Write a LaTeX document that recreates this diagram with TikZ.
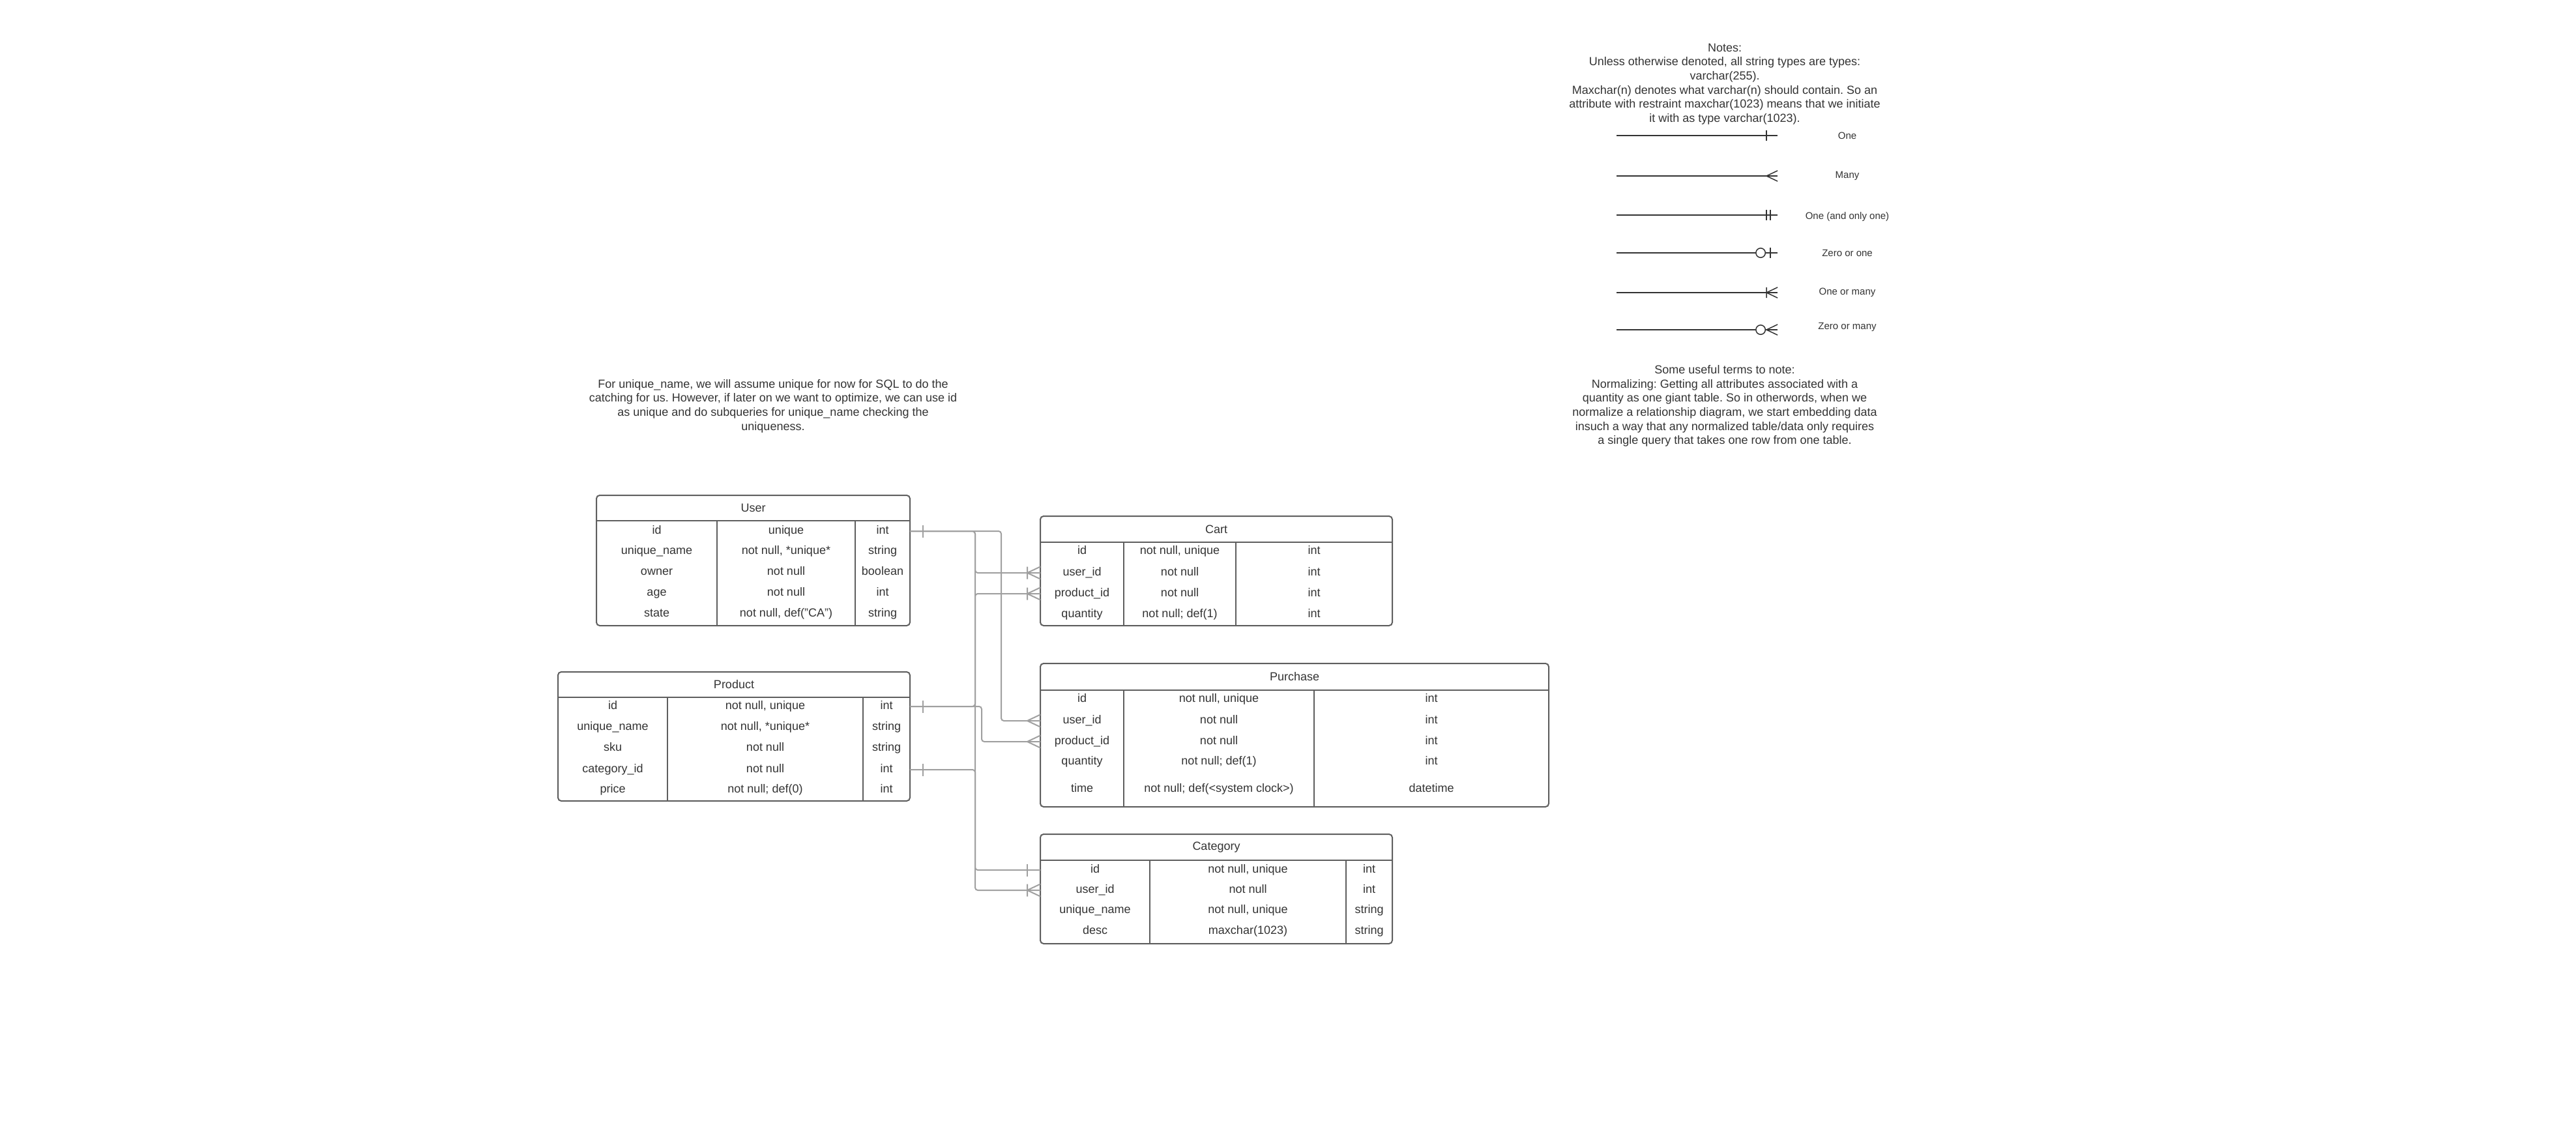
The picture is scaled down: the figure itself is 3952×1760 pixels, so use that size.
\documentclass[tikz,border=0pt]{standalone}
\usepackage{fontspec}
\setmainfont{Liberation Sans}
\usepackage{tikz}
\usetikzlibrary{positioning}
\definecolor{txt}{HTML}{333333}
\definecolor{border}{HTML}{5E5E5E}
\definecolor{linkgray}{HTML}{A0A0A0}
\definecolor{legdark}{HTML}{333333}
\frenchspacing

\tikzset{
  pics/tick/.style={code={\draw[sharp corners] (20,-9.5) -- (20,9.5);}},
  pics/bar/.style={code={\draw[sharp corners] (-20,-9.5) -- (-20,9.5);}},
  pics/crow/.style={code={\draw[sharp corners] (0,-9.5) -- (-20,0) -- (0,9.5);}},
  pics/crowbar/.style={code={\draw[sharp corners] (0,-9.5) -- (-20,0) -- (0,9.5) (-20,-9.5) -- (-20,9.5);}},
  pics/twobars/.style={code={\draw[sharp corners] (-20,-9.5) -- (-20,9.5) (-13,-9.5) -- (-13,9.5);}},
  pics/ringbar/.style={code={\draw[fill=white] (-30.5,0) circle [radius=8.5]; \draw (-13,-9.5) -- (-13,9.5);}},
  pics/ringcrow/.style={code={\draw[sharp corners] (0,-9.5) -- (-20,0) -- (0,9.5); \draw[fill=white] (-30.5,0) circle [radius=8.5];}},
}

\begin{document}
\begin{tikzpicture}[x=1pt,y=-1pt,
  every node/.style={text=txt,font=\fontsize{18}{21.7}\selectfont},
  tbl/.style={draw=border,line width=2pt,rounded corners=5pt,inner sep=0pt,outer sep=0pt,anchor=north west},
  rule/.style={draw=border,line width=2pt},
  hdr/.style={inner sep=0pt,outer sep=0pt,minimum height=#1},
  hdr/.default=40pt,
  cell/.style={inner sep=0pt,text height=13pt,text depth=4pt},
  rowspan/.style={inner sep=0pt,outer sep=0pt,minimum height=0pt},
  link/.style={color=linkgray,line width=2pt,rounded corners=4pt},
  legline/.style={color=legdark,line width=1.5pt},
  legtext/.style={font=\fontsize{15}{18}\selectfont}]
\useasboundingbox (0,0) rectangle (3952,1760);

\node[align=center] (notes) at (2646,129) {Notes:\\Unless otherwise denoted, all string types are types:\\varchar(255).\\Maxchar(n) denotes what varchar(n) should contain. So an\\attribute with restraint maxchar(1023) means that we initiate\\it with as type varchar(1023).};
\node[align=center] (terms) at (2646,623) {Some useful terms to note:\\Normalizing: Getting all attributes associated with a\\quantity as one giant table. So in otherwords, when we\\normalize a relationship diagram, we start embedding data\\insuch a way that any normalized table/data only requires\\a single query that takes one row from one table.};
\node[align=center] (remark) at (1186,623) {For unique\_name, we will assume unique for now for SQL to do the\\catching for us. However, if later on we want to optimize, we can use id\\as unique and do subqueries for unique\_name checking the\\uniqueness.};

% legend
\foreach \y/\ly/\lbl/\sym [count=\i] in {208/208/One/bar, 270/270/Many/crow, 330/333/One (and only one)/twobars, 388/388/Zero or one/ringbar, 449/449/One or many/crowbar, 506/502/Zero or many/ringcrow}{
  \coordinate (leg-\i) at (2480,\y);
  \node[legtext] (legl-\i) at (2834,\ly) {\lbl};
  \draw[legline] (leg-\i) -- (leg-\i -| 2727,0) pic[legline,scale=.85] {\sym};
}

% User
\node[tbl,minimum width=481pt,minimum height=200pt] (user) at (915,760) {};
\node[hdr=39pt,below=0pt of user.north] {User};
\draw[rule] (915,799) -- (1396,799) (1100,799) -- (1100,960) (1312,799) -- (1312,960);
\foreach \y/\a/\b/\c [count=\i] in {815/id/unique/int, 846/unique\_name/{not null, *unique*}/string, 878/owner/not null/boolean, 910/age/not null/int, 942/state/{not null, def("CA")}/string}{
  \node[rowspan,minimum width=481pt] (user-\i) at (1155.5,\y) {};
  \node[cell] at (1007.5,\y) {\a};
  \node[cell] at (1206,\y) {\b};
  \node[cell] at (1354,\y) {\c};
}

% Product
\node[tbl,minimum width=540pt,minimum height=198pt] (prod) at (856,1031) {};
\node[hdr=39pt,below=0pt of prod.north] {Product};
\draw[rule] (856,1070) -- (1396,1070) (1024,1070) -- (1024,1229) (1324,1070) -- (1324,1229);
\foreach \y/\a/\b/\c [count=\i] in {1084/id/{not null, unique}/int, 1116/unique\_name/{not null, *unique*}/string, 1148/sku/not null/string, 1181/category\_id/not null/int, 1212/price/{not null; def(0)}/int}{
  \node[rowspan,minimum width=540pt] (prod-\i) at (1126,\y) {};
  \node[cell] at (940,\y) {\a};
  \node[cell] at (1174,\y) {\b};
  \node[cell] at (1360,\y) {\c};
}

% Cart
\node[tbl,minimum width=540pt,minimum height=168pt] (cart) at (1596,792) {};
\node[hdr,below=0pt of cart.north] {Cart};
\draw[rule] (1596,832) -- (2136,832) (1724,832) -- (1724,960) (1896,832) -- (1896,960);
\foreach \y/\a/\b/\c [count=\i] in {846/id/{not null, unique}/int, 879/user\_id/not null/int, 911/product\_id/not null/int, 943/quantity/{not null; def(1)}/int}{
  \node[rowspan,minimum width=540pt] (cart-\i) at (1866,\y) {};
  \node[cell] at (1660,\y) {\a};
  \node[cell] at (1810,\y) {\b};
  \node[cell] at (2016,\y) {\c};
}

% Purchase
\node[tbl,minimum width=780pt,minimum height=220pt] (purch) at (1596,1018) {};
\node[hdr=41pt,below=0pt of purch.north] {Purchase};
\draw[rule] (1596,1059) -- (2376,1059) (1724,1059) -- (1724,1238) (2016,1059) -- (2016,1238);
\foreach \y/\a/\b/\c [count=\i] in {1073/id/{not null, unique}/int, 1106/user\_id/not null/int, 1138/product\_id/not null/int, 1169/quantity/{not null; def(1)}/int, 1211/time/{not null; def(<system clock>)}/datetime}{
  \node[rowspan,minimum width=780pt] (purch-\i) at (1986,\y) {};
  \node[cell] at (1660,\y) {\a};
  \node[cell] at (1870,\y) {\b};
  \node[cell] at (2196,\y) {\c};
}

% Category
\node[tbl,minimum width=540pt,minimum height=168pt] (cat) at (1596,1280) {};
\node[hdr,below=0pt of cat.north] {Category};
\draw[rule] (1596,1320) -- (2136,1320) (1764,1320) -- (1764,1448) (2065,1320) -- (2065,1448);
\foreach \y/\a/\b/\c [count=\i] in {1335/id/{not null, unique}/int, 1366/user\_id/not null/int, 1397/unique\_name/{not null, unique}/string, 1429/desc/maxchar(1023)/string}{
  \node[rowspan,minimum width=540pt] (cat-\i) at (1866,\y) {};
  \node[cell] at (1680,\y) {\a};
  \node[cell] at (1914.5,\y) {\b};
  \node[cell] at (2100.5,\y) {\c};
}

% relations
\coordinate (busa) at (1496,0);
\coordinate (busb) at (1506,0);
\coordinate (busc) at (1536,0);
\begin{scope}[link]
\draw (user-1.east) -- (user-1.east -| busa) |- (cart-2.west) pic {crowbar};
\draw (user-1.east) -- (user-1.east -| busc) |- (purch-2.west) pic {crow};
\draw (user-1.east) -- (user-1.east -| busa) |- (cat-2.west) pic {crowbar};
\draw (prod-1.east) -- (prod-1.east -| busa) |- (cart-3.west) pic {crowbar};
\draw (prod-1.east) -- (prod-1.east -| busb) |- (purch-3.west) pic {crow};
\draw (prod-4.east) -- (prod-4.east -| busa) |- (cat-1.west) pic {bar};
\path (user-1.east) pic {tick} (prod-1.east) pic {tick} (prod-4.east) pic {tick};
\end{scope}
\end{tikzpicture}
\end{document}
